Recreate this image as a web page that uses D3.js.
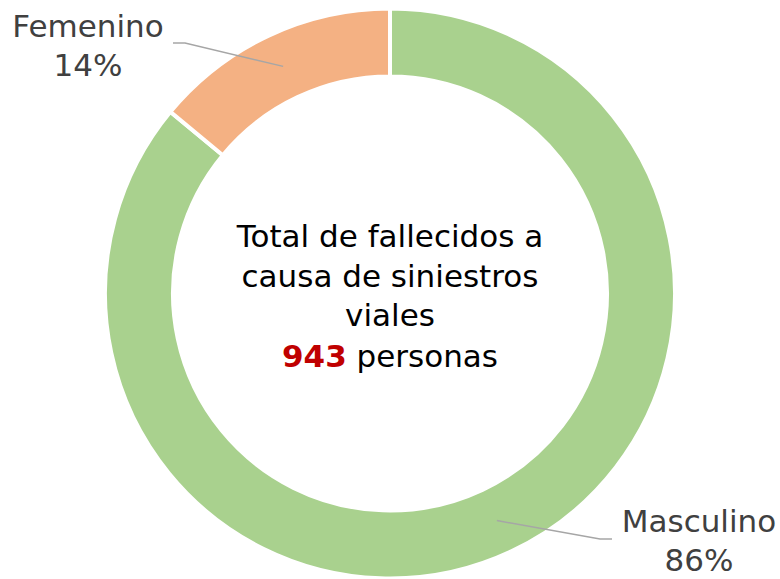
<!DOCTYPE html>
<html>
<head>
<meta charset="utf-8">
<script src="https://cdn.jsdelivr.net/npm/d3@7"></script>
<style>
  html, body { margin: 0; padding: 0; background: #fff; }
  svg { display: block; }
  text { font-family: "DejaVu Sans", "Noto Sans", sans-serif; }
</style>
</head>
<body>
<svg id="chart" width="780" height="579"></svg>
<script>
// Fallecidos por siniestros viales, según sexo
const categories = ["Masculino", "Femenino"];
const shares = [86, 14];
const colors = ["#A9D18E", "#F4B183"];
const totalDeaths = 943;
const centerLines = ["Total de fallecidos a", "causa de siniestros", "viales"];

const width = 780, height = 579;
const cx = 390, cy = 293.5;
const outerR = 285, innerR = 217;

const svg = d3.select("#chart");
const g = svg.append("g").attr("transform", `translate(${cx},${cy})`);

const pie = d3.pie().sort(null).value(d => d.value);
const arcs = pie(categories.map((c, i) => ({ name: c, value: shares[i], color: colors[i] })));

const arc = d3.arc().innerRadius(innerR).outerRadius(outerR);

g.selectAll("path.slice")
  .data(arcs)
  .join("path")
  .attr("class", "slice")
  .attr("d", arc)
  .attr("fill", d => d.data.color)
  .attr("stroke", "#fff")
  .attr("stroke-width", 4);

// Labels with leader lines starting at the middle of each slice
const labelLayout = {
  Masculino: { elbow: [600 - cx, 539 - cy], end: [612 - cx, 539 - cy], text: [699 - cx, 532 - cy] },
  Femenino:  { elbow: [185 - cx, 43 - cy], end: [173 - cx, 43 - cy], text: [88 - cx, 37 - cy] }
};

const leaderArc = d3.arc().innerRadius(251).outerRadius(251);

arcs.forEach(d => {
  const L = labelLayout[d.data.name];
  const p = leaderArc.centroid(d);
  g.append("polyline")
    .attr("points", [p, L.elbow, L.end].map(q => q.join(",")).join(" "))
    .attr("fill", "none")
    .attr("stroke", "#A6A6A6")
    .attr("stroke-width", 1.5);
  const t = g.append("text")
    .attr("text-anchor", "middle")
    .attr("fill", "#404040")
    .attr("font-size", 31);
  t.append("tspan").attr("x", L.text[0]).attr("y", L.text[1]).text(d.data.name);
  t.append("tspan").attr("x", L.text[0]).attr("y", L.text[1] + 39).text(d3.format("d")(d.data.value) + "%");
});

// Center text
const ct = g.append("text")
  .attr("text-anchor", "middle")
  .attr("fill", "#000")
  .attr("font-size", 31);
const baselines = [247 - cy, 287 - cy, 326 - cy];
centerLines.forEach((line, i) => {
  ct.append("tspan").attr("x", 0).attr("y", baselines[i]).text(line);
});
const last = ct.append("tspan").attr("x", 0).attr("y", 367 - cy);
last.append("tspan").attr("fill", "#C00000").attr("font-weight", "bold").text(totalDeaths);
last.append("tspan").text(" personas");
</script>
</body>
</html>
